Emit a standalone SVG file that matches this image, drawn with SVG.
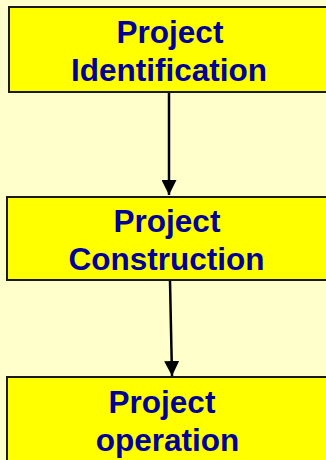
<svg xmlns="http://www.w3.org/2000/svg" width="326" height="460" viewBox="0 0 326 460">
<style>
.box{fill:#FFFF00;stroke:#1a1a1a;stroke-width:2}
.t{font-family:"Liberation Sans",Arial,sans-serif;font-weight:bold;font-size:31.5px;fill:#000099;text-anchor:middle}
.c{stroke:#000;stroke-width:2.5;fill:none;marker-end:url(#ah)}
</style>
<defs>
<marker id="ah" viewBox="0 0 10 10" refX="10" refY="5" markerUnits="userSpaceOnUse" markerWidth="15" markerHeight="15" orient="auto">
<path d="M0,0 L10,5 L0,10 Z" fill="#000"/>
</marker>
</defs>
<rect width="326" height="460" fill="#FFFFCC"/>
<g id="connectors">
<line class="c" x1="169" y1="92" x2="169" y2="195"/>
<line class="c" x1="170" y1="281" x2="172" y2="376"/>
</g>
<g id="n1">
<rect class="box" x="9" y="7" width="330" height="85"/>
<text class="t" x="170" y="43">Project</text>
<text class="t" x="169" y="81">Identification</text>
</g>
<g id="n2">
<rect class="box" x="7" y="197" width="330" height="83"/>
<text class="t" x="167" y="232">Project</text>
<text class="t" x="166.5" y="270">Construction</text>
</g>
<g id="n3">
<rect class="box" x="7" y="377" width="330" height="100"/>
<text class="t" x="162" y="413">Project</text>
<text class="t" x="167.5" y="451">operation</text>
</g>
</svg>
